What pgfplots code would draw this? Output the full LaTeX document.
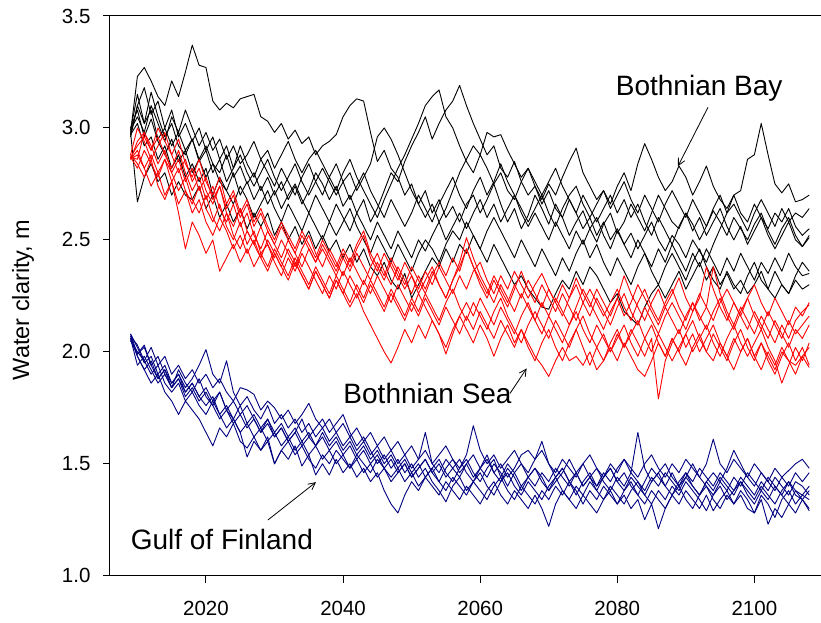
\documentclass[border=0pt]{standalone}
\usepackage{fontspec}
\setmainfont{Liberation Sans}
\usepackage{pgfplots}
\usepackage{pgfplotstable}
\pgfplotsset{compat=1.18}
\usetikzlibrary{arrows.meta}
\definecolor{navy}{RGB}{0,0,128}
\definecolor{pure red}{RGB}{255,0,0}

% Bothnian Bay: one row per ensemble member, 2009..2108
\pgfplotstableread[header=false]{
2.98 3.23 3.27 3.21 3.14 3.10 3.21 3.14 3.25 3.37 3.28 3.27 3.12 3.08 3.11 3.09 3.13 3.14 3.15 3.05 3.03 2.98 3.02 2.95 2.99 2.93 2.96 2.88 2.92 2.94 2.97 3.05 3.10 3.13 3.12 2.98 2.85 2.90 2.82 2.78 2.70 2.75 2.66 2.72 2.62 2.68 2.60 2.65 2.58 2.66 2.70 2.62 2.68 2.75 2.66 2.58 2.64 2.55 2.61 2.70 2.64 2.57 2.66 2.60 2.52 2.58 2.63 2.55 2.49 2.57 2.62 2.53 2.58 2.66 2.60 2.54 2.62 2.70 2.64 2.58 2.55 2.62 2.57 2.50 2.56 2.63 2.58 2.52 2.60 2.55 2.50 2.57 2.62 2.54 2.48 2.55 2.60 2.52 2.47 2.51
2.99 3.15 3.02 3.08 2.95 3.00 2.92 2.98 2.90 2.95 2.86 2.92 2.84 2.80 2.88 2.78 2.83 2.75 2.80 2.72 2.78 2.70 2.76 2.68 2.74 2.66 2.72 2.80 2.75 2.68 2.74 2.65 2.70 2.62 2.68 2.58 2.64 2.72 2.80 2.76 2.85 2.92 2.98 3.05 2.95 3.02 3.08 3.12 3.19 3.10 3.02 2.95 2.88 2.92 2.82 2.78 2.85 2.76 2.70 2.74 2.66 2.72 2.64 2.60 2.68 2.62 2.55 2.60 2.52 2.58 2.50 2.55 2.48 2.53 2.46 2.52 2.58 2.50 2.45 2.52 2.48 2.42 2.50 2.45 2.40 2.48 2.55 2.62 2.70 2.72 2.86 2.88 3.02 2.88 2.75 2.71 2.75 2.67 2.68 2.70
2.97 3.10 3.02 3.16 3.05 2.96 3.02 2.92 2.88 2.95 2.85 2.90 2.80 2.86 2.76 2.82 2.92 2.84 2.78 2.86 2.80 2.74 2.82 2.76 2.70 2.78 2.84 2.76 2.70 2.78 2.72 2.80 2.86 2.78 2.72 2.66 2.60 2.68 2.75 2.82 2.88 2.95 3.02 3.10 3.14 3.17 3.05 3.00 2.92 2.85 2.80 2.88 2.82 2.75 2.80 2.72 2.68 2.76 2.82 2.74 2.68 2.75 2.70 2.78 2.85 2.91 2.80 2.74 2.68 2.72 2.66 2.74 2.80 2.72 2.84 2.93 2.86 2.78 2.72 2.76 2.83 2.78 2.70 2.76 2.83 2.74 2.68 2.64 2.70 2.62 2.58 2.66 2.60 2.55 2.62 2.58 2.64 2.56 2.52 2.55
2.98 2.67 2.78 2.84 2.76 2.80 2.70 2.76 2.70 2.68 2.74 2.64 2.70 2.60 2.66 2.58 2.64 2.55 2.62 2.56 2.62 2.52 2.58 2.50 2.56 2.48 2.54 2.46 2.52 2.45 2.50 2.42 2.48 2.40 2.46 2.38 2.34 2.40 2.32 2.28 2.35 2.24 2.30 2.36 2.42 2.38 2.46 2.40 2.48 2.44 2.52 2.46 2.40 2.48 2.42 2.36 2.30 2.34 2.28 2.24 2.20 2.19 2.26 2.32 2.28 2.36 2.30 2.38 2.34 2.28 2.22 2.26 2.18 2.15 2.12 2.20 2.26 2.30 2.24 2.30 2.36 2.28 2.34 2.40 2.32 2.38 2.30 2.35 2.28 2.32 2.26 2.30 2.36 2.28 2.24 2.30 2.26 2.32 2.28 2.30
3.00 3.08 2.96 3.04 2.94 2.88 2.95 2.85 2.90 2.80 2.86 2.78 2.84 2.76 2.72 2.80 2.70 2.76 2.68 2.74 2.66 2.72 2.64 2.70 2.75 2.68 2.62 2.70 2.64 2.58 2.66 2.60 2.54 2.62 2.56 2.50 2.58 2.52 2.46 2.54 2.48 2.42 2.50 2.45 2.52 2.58 2.50 2.56 2.62 2.55 2.62 2.68 2.60 2.66 2.58 2.64 2.70 2.62 2.56 2.62 2.56 2.50 2.58 2.52 2.46 2.54 2.48 2.55 2.60 2.52 2.46 2.54 2.48 2.42 2.50 2.44 2.38 2.46 2.40 2.48 2.42 2.36 2.44 2.38 2.46 2.40 2.34 2.42 2.36 2.44 2.38 2.32 2.40 2.35 2.42 2.36 2.44 2.38 2.34 2.35
2.99 3.05 2.98 3.10 3.02 2.94 3.05 2.98 3.08 3.00 2.92 2.98 2.90 2.95 2.86 2.92 2.84 2.88 2.94 2.86 2.90 2.82 2.88 2.94 2.86 2.80 2.86 2.90 2.84 2.78 2.84 2.76 2.80 2.72 2.78 2.84 2.96 3.00 2.95 2.88 2.80 2.72 2.66 2.60 2.66 2.58 2.64 2.72 2.80 2.86 2.92 2.88 2.98 2.96 2.97 2.90 2.84 2.78 2.82 2.76 2.70 2.76 2.82 2.74 2.68 2.62 2.70 2.64 2.58 2.64 2.70 2.62 2.68 2.60 2.66 2.58 2.52 2.60 2.54 2.48 2.56 2.62 2.54 2.60 2.52 2.58 2.64 2.56 2.50 2.56 2.48 2.54 2.60 2.52 2.46 2.52 2.58 2.50 2.47 2.52
2.97 3.02 2.92 2.96 2.86 2.92 2.82 2.88 2.78 2.84 2.76 2.82 2.70 2.78 2.72 2.66 2.74 2.68 2.60 2.66 2.72 2.64 2.58 2.66 2.60 2.54 2.62 2.56 2.50 2.58 2.52 2.58 2.64 2.56 2.50 2.44 2.52 2.46 2.40 2.48 2.42 2.36 2.44 2.50 2.46 2.40 2.48 2.54 2.50 2.58 2.52 2.46 2.54 2.60 2.54 2.48 2.42 2.50 2.44 2.38 2.46 2.40 2.34 2.42 2.36 2.44 2.50 2.42 2.48 2.40 2.34 2.42 2.36 2.30 2.38 2.44 2.36 2.30 2.38 2.44 2.38 2.32 2.40 2.46 2.38 2.32 2.28 2.36 2.30 2.26 2.34 2.40 2.32 2.28 2.36 2.30 2.26 2.34 2.40 2.36
2.96 3.10 3.18 3.06 3.12 3.00 3.08 2.96 3.02 2.94 3.00 2.90 2.96 2.86 2.92 2.82 2.88 2.80 2.74 2.80 2.86 2.78 2.72 2.78 2.84 2.76 2.70 2.76 2.82 2.76 2.70 2.76 2.68 2.74 2.80 2.72 2.66 2.60 2.68 2.62 2.56 2.62 2.70 2.64 2.58 2.66 2.72 2.78 2.70 2.64 2.72 2.78 2.70 2.76 2.84 2.76 2.70 2.64 2.58 2.64 2.70 2.62 2.56 2.64 2.70 2.74 2.66 2.60 2.66 2.72 2.64 2.70 2.76 2.68 2.62 2.70 2.64 2.58 2.66 2.72 2.66 2.60 2.68 2.62 2.56 2.64 2.70 2.62 2.66 2.60 2.54 2.62 2.68 2.62 2.56 2.64 2.58 2.62 2.60 2.64
}\rawB
\pgfplotstabletranspose\tabB\rawB

% Bothnian Sea
\pgfplotstableread[header=false]{
2.87 2.92 2.96 2.90 3.00 2.94 2.88 2.95 2.84 2.78 2.86 2.76 2.70 2.78 2.66 2.72 2.62 2.68 2.58 2.64 2.56 2.50 2.58 2.52 2.46 2.54 2.48 2.42 2.50 2.44 2.38 2.46 2.40 2.48 2.54 2.44 2.38 2.32 2.40 2.34 2.28 2.34 2.26 2.32 2.38 2.30 2.24 2.32 2.40 2.51 2.42 2.34 2.28 2.22 2.30 2.24 2.18 2.26 2.20 2.14 2.22 2.16 2.24 2.18 2.12 2.20 2.28 2.22 2.16 2.10 2.18 2.24 2.16 2.22 2.30 2.24 2.18 2.12 2.20 2.14 2.08 2.16 2.22 2.14 2.20 2.38 2.26 2.18 2.12 2.20 2.14 2.08 2.16 2.10 2.04 2.12 2.06 2.14 2.18 2.21
2.86 2.88 2.82 2.74 2.80 2.70 2.76 2.66 2.72 2.62 2.68 2.58 2.52 2.60 2.54 2.46 2.52 2.44 2.50 2.42 2.36 2.44 2.38 2.32 2.40 2.34 2.28 2.36 2.30 2.24 2.32 2.26 2.20 2.26 2.18 2.12 2.06 2.00 1.95 2.02 2.10 2.04 2.12 2.06 2.14 2.08 2.02 2.10 2.16 2.10 2.04 2.12 2.06 1.98 2.06 2.12 2.04 2.10 2.02 1.96 2.04 2.10 2.02 1.96 2.04 2.10 2.02 1.94 2.02 2.08 2.00 2.06 2.12 2.04 1.98 2.06 2.12 2.04 1.98 2.06 2.00 2.08 2.14 2.06 2.00 2.08 2.02 1.96 2.04 2.10 2.02 1.96 2.04 1.98 1.92 2.00 1.96 1.94 1.98 2.02
2.88 2.84 2.78 2.86 2.74 2.68 2.76 2.62 2.46 2.58 2.52 2.44 2.50 2.36 2.42 2.48 2.40 2.46 2.38 2.44 2.48 2.40 2.34 2.42 2.36 2.44 2.38 2.32 2.26 2.34 2.28 2.36 2.30 2.24 2.32 2.26 2.34 2.28 2.22 2.30 2.24 2.18 2.26 2.20 2.14 2.08 1.99 2.08 2.16 2.22 2.16 2.24 2.18 2.12 2.20 2.14 2.08 2.16 2.22 2.14 2.08 2.16 2.10 2.04 2.12 2.18 2.10 2.04 2.12 2.06 2.00 2.08 2.02 2.10 2.04 1.98 2.06 1.79 1.96 2.04 2.10 2.02 2.08 2.00 2.06 2.12 2.04 1.98 2.06 2.00 2.06 1.98 2.04 1.96 1.90 1.98 2.04 1.96 2.02 1.94
2.87 2.86 2.98 2.92 2.84 2.90 2.80 2.86 2.76 2.82 2.72 2.78 2.68 2.74 2.64 2.70 2.60 2.66 2.56 2.62 2.54 2.48 2.56 2.50 2.44 2.52 2.46 2.40 2.48 2.42 2.36 2.44 2.38 2.46 2.52 2.42 2.36 2.44 2.38 2.32 2.40 2.34 2.28 2.36 2.30 2.38 2.32 2.26 2.34 2.28 2.36 2.40 2.32 2.26 2.34 2.28 2.36 2.30 2.24 2.30 2.35 2.28 2.22 2.30 2.24 2.33 2.26 2.20 2.28 2.22 2.16 2.24 2.34 2.26 2.20 2.14 2.22 2.28 2.20 2.26 2.33 2.24 2.18 2.26 2.20 2.14 2.22 2.28 2.22 2.16 2.24 2.30 2.22 2.16 2.24 2.18 2.12 2.20 2.16 2.22
2.86 2.90 2.82 2.88 2.80 2.86 2.76 2.82 2.72 2.66 2.74 2.64 2.58 2.66 2.56 2.50 2.58 2.48 2.54 2.44 2.38 2.46 2.40 2.34 2.42 2.36 2.30 2.38 2.32 2.26 2.34 2.28 2.22 2.30 2.24 2.32 2.26 2.20 2.28 2.22 2.16 2.24 2.18 2.26 2.20 2.14 2.22 2.28 2.20 2.14 2.22 2.16 2.10 2.18 2.24 2.16 2.10 2.04 2.12 2.18 2.12 2.06 2.14 2.08 2.02 2.10 2.16 2.08 2.02 1.96 2.04 2.10 2.02 2.08 2.14 2.06 2.00 2.08 2.02 1.96 2.02 2.08 2.00 2.06 2.12 2.04 1.98 2.06 2.12 2.04 1.98 2.04 2.10 2.02 1.96 1.86 1.94 2.02 1.96 2.04
2.88 3.00 2.94 2.86 2.92 2.98 2.88 2.80 2.86 2.76 2.82 2.72 2.66 2.74 2.62 2.56 2.64 2.54 2.48 2.56 2.48 2.42 2.50 2.44 2.38 2.46 2.52 2.44 2.38 2.46 2.40 2.34 2.42 2.36 2.30 2.38 2.44 2.36 2.30 2.38 2.32 2.26 2.34 2.28 2.36 2.30 2.24 2.32 2.38 2.46 2.38 2.30 2.24 2.32 2.26 2.20 2.28 2.36 2.28 2.22 2.30 2.24 2.18 2.26 2.20 2.14 2.22 2.28 2.22 2.16 2.22 2.28 2.20 2.14 2.22 2.28 2.20 2.14 2.22 2.28 2.20 2.14 2.22 2.16 2.10 2.18 2.24 2.16 2.10 2.18 2.24 2.16 2.10 2.18 2.12 2.06 2.14 2.08 2.12 2.16
2.87 2.82 2.90 2.84 2.78 2.86 2.80 2.72 2.78 2.68 2.62 2.70 2.60 2.54 2.62 2.52 2.46 2.54 2.48 2.42 2.50 2.44 2.38 2.46 2.40 2.34 2.28 2.36 2.30 2.24 2.32 2.26 2.34 2.28 2.22 2.30 2.24 2.18 2.26 2.20 2.14 2.22 2.16 2.24 2.18 2.12 2.20 2.14 2.08 2.16 2.10 2.18 2.12 2.06 2.14 2.08 2.02 2.10 2.04 1.98 1.94 1.89 1.96 2.02 1.96 1.98 1.94 2.00 1.92 1.96 2.02 1.96 2.04 1.98 1.92 1.89 1.96 2.04 1.98 2.06 2.00 1.94 2.02 2.08 2.00 1.96 2.04 1.98 1.92 2.00 2.06 1.98 1.92 2.00 1.94 2.02 1.96 1.90 1.98 1.93
2.86 2.94 2.98 2.90 2.96 2.88 2.82 2.90 2.80 2.72 2.78 2.68 2.74 2.64 2.58 2.66 2.56 2.62 2.52 2.46 2.54 2.48 2.42 2.50 2.44 2.38 2.46 2.40 2.46 2.40 2.34 2.42 2.36 2.44 2.38 2.32 2.40 2.34 2.42 2.36 2.30 2.38 2.32 2.26 2.34 2.40 2.34 2.42 2.36 2.46 2.38 2.32 2.26 2.34 2.28 2.22 2.30 2.24 2.32 2.26 2.20 2.28 2.22 2.16 2.24 2.30 2.22 2.16 2.24 2.18 2.12 2.20 2.26 2.18 2.12 2.20 2.14 2.08 2.16 2.22 2.16 2.10 2.18 2.24 2.38 2.28 2.20 2.14 2.22 2.16 2.10 2.18 2.12 2.06 2.14 2.08 2.02 2.10 2.06 2.12
}\rawS
\pgfplotstabletranspose\tabS\rawS

% Gulf of Finland
\pgfplotstableread[header=false]{
2.08 2.02 1.95 1.98 1.90 1.94 1.86 1.90 1.82 1.86 1.80 1.84 1.78 1.82 1.74 1.70 1.76 1.68 1.72 1.66 1.70 1.64 1.68 1.62 1.66 1.60 1.64 1.58 1.62 1.56 1.60 1.54 1.58 1.52 1.56 1.50 1.54 1.48 1.52 1.46 1.50 1.44 1.48 1.52 1.46 1.42 1.48 1.52 1.46 1.50 1.44 1.48 1.54 1.46 1.42 1.48 1.44 1.38 1.44 1.48 1.42 1.38 1.44 1.48 1.42 1.36 1.42 1.46 1.40 1.44 1.48 1.42 1.38 1.44 1.40 1.36 1.42 1.46 1.40 1.36 1.42 1.46 1.40 1.36 1.42 1.38 1.44 1.40 1.36 1.42 1.38 1.34 1.40 1.36 1.32 1.38 1.42 1.36 1.34 1.38
2.07 1.98 1.92 1.96 1.88 1.92 1.86 1.90 1.84 1.88 1.94 2.01 1.90 1.86 1.96 1.82 1.76 1.80 1.74 1.70 1.76 1.68 1.72 1.66 1.70 1.64 1.68 1.62 1.66 1.60 1.64 1.58 1.62 1.56 1.60 1.54 1.58 1.52 1.56 1.50 1.54 1.48 1.52 1.64 1.50 1.46 1.52 1.48 1.44 1.50 1.54 1.48 1.44 1.50 1.46 1.40 1.46 1.50 1.44 1.40 1.46 1.42 1.48 1.44 1.40 1.46 1.50 1.44 1.40 1.46 1.42 1.48 1.52 1.46 1.64 1.48 1.42 1.46 1.50 1.44 1.40 1.46 1.42 1.48 1.44 1.40 1.46 1.42 1.38 1.44 1.40 1.36 1.42 1.38 1.44 1.40 1.36 1.42 1.40 1.36
2.06 1.98 1.92 1.86 1.90 1.82 1.78 1.72 1.78 1.74 1.70 1.64 1.58 1.66 1.62 1.68 1.60 1.57 1.62 1.56 1.60 1.50 1.56 1.52 1.58 1.49 1.54 1.45 1.50 1.45 1.52 1.46 1.50 1.44 1.48 1.42 1.46 1.38 1.32 1.28 1.36 1.42 1.38 1.44 1.40 1.36 1.42 1.38 1.34 1.40 1.36 1.32 1.38 1.42 1.36 1.32 1.38 1.34 1.30 1.36 1.30 1.22 1.32 1.38 1.34 1.30 1.36 1.32 1.28 1.34 1.38 1.32 1.36 1.30 1.34 1.25 1.32 1.21 1.30 1.36 1.32 1.38 1.34 1.30 1.36 1.29 1.34 1.38 1.32 1.36 1.30 1.28 1.34 1.23 1.30 1.26 1.32 1.28 1.34 1.30
2.05 2.00 1.96 2.02 1.94 1.98 1.90 1.94 1.88 1.92 1.86 1.90 1.84 1.88 1.82 1.78 1.84 1.83 1.81 1.74 1.78 1.75 1.70 1.74 1.68 1.72 1.77 1.70 1.66 1.70 1.64 1.68 1.62 1.66 1.60 1.64 1.58 1.62 1.56 1.60 1.54 1.58 1.52 1.56 1.50 1.54 1.58 1.52 1.48 1.54 1.67 1.56 1.50 1.54 1.48 1.52 1.56 1.50 1.46 1.52 1.56 1.50 1.46 1.52 1.48 1.44 1.50 1.54 1.48 1.44 1.50 1.46 1.52 1.48 1.44 1.50 1.54 1.48 1.44 1.50 1.46 1.52 1.48 1.44 1.50 1.61 1.50 1.46 1.52 1.48 1.44 1.50 1.46 1.42 1.48 1.44 1.40 1.46 1.42 1.46
2.08 1.99 2.03 1.94 1.88 1.92 1.84 1.88 1.80 1.84 1.78 1.82 1.76 1.70 1.74 1.68 1.72 1.66 1.70 1.64 1.68 1.62 1.66 1.60 1.64 1.58 1.62 1.66 1.70 1.64 1.68 1.72 1.64 1.58 1.62 1.56 1.50 1.54 1.48 1.52 1.46 1.50 1.44 1.48 1.42 1.38 1.33 1.40 1.44 1.38 1.42 1.46 1.40 1.36 1.42 1.46 1.40 1.36 1.42 1.38 1.34 1.40 1.44 1.38 1.34 1.40 1.36 1.42 1.38 1.34 1.40 1.36 1.32 1.38 1.42 1.36 1.32 1.38 1.34 1.40 1.36 1.42 1.38 1.34 1.29 1.36 1.40 1.34 1.38 1.42 1.36 1.32 1.38 1.34 1.40 1.36 1.32 1.38 1.34 1.29
2.06 1.94 1.98 1.92 1.86 1.90 1.84 1.88 1.82 1.86 1.80 1.76 1.80 1.72 1.76 1.70 1.64 1.68 1.62 1.66 1.60 1.64 1.58 1.62 1.56 1.60 1.54 1.58 1.52 1.56 1.50 1.54 1.48 1.52 1.46 1.50 1.44 1.48 1.42 1.46 1.50 1.44 1.48 1.52 1.46 1.50 1.44 1.48 1.52 1.46 1.42 1.48 1.52 1.46 1.50 1.44 1.48 1.54 1.56 1.52 1.60 1.50 1.44 1.48 1.42 1.46 1.40 1.44 1.48 1.42 1.38 1.44 1.40 1.46 1.42 1.38 1.44 1.40 1.46 1.42 1.38 1.44 1.40 1.36 1.42 1.46 1.42 1.48 1.56 1.50 1.44 1.40 1.46 1.42 1.38 1.44 1.47 1.50 1.52 1.48
2.07 2.03 1.96 1.90 1.94 1.86 1.82 1.86 1.78 1.82 1.76 1.72 1.78 1.72 1.66 1.70 1.64 1.53 1.60 1.56 1.62 1.50 1.56 1.60 1.54 1.58 1.52 1.48 1.54 1.50 1.56 1.52 1.48 1.54 1.50 1.46 1.52 1.48 1.44 1.48 1.42 1.46 1.40 1.44 1.48 1.42 1.38 1.44 1.40 1.36 1.42 1.38 1.34 1.40 1.44 1.38 1.34 1.40 1.36 1.32 1.38 1.34 1.40 1.36 1.42 1.38 1.32 1.38 1.34 1.40 1.36 1.32 1.38 1.42 1.36 1.32 1.38 1.34 1.30 1.36 1.40 1.34 1.30 1.36 1.40 1.34 1.30 1.36 1.32 1.38 1.34 1.28 1.36 1.32 1.26 1.34 1.38 1.32 1.36 1.34
2.05 1.99 2.02 1.94 1.98 1.90 1.84 1.92 1.86 1.82 1.88 1.80 1.76 1.82 1.74 1.78 1.72 1.76 1.70 1.64 1.70 1.62 1.66 1.60 1.64 1.70 1.62 1.58 1.64 1.58 1.62 1.56 1.60 1.54 1.58 1.52 1.56 1.50 1.54 1.48 1.52 1.46 1.50 1.44 1.48 1.52 1.46 1.42 1.48 1.52 1.46 1.42 1.48 1.52 1.44 1.50 1.46 1.40 1.44 1.48 1.44 1.38 1.42 1.46 1.52 1.46 1.40 1.44 1.38 1.44 1.48 1.42 1.46 1.40 1.36 1.42 1.48 1.44 1.40 1.46 1.40 1.44 1.50 1.44 1.40 1.36 1.42 1.38 1.44 1.40 1.46 1.42 1.38 1.44 1.40 1.36 1.42 1.38 1.36 1.40
}\rawG
\pgfplotstabletranspose\tabG\rawG

\begin{document}
\begin{tikzpicture}
\begin{axis}[
  name=ax, scale only axis, width=711pt, height=559.7pt,
  xmin=2006, xmax=2109.72, ymin=1, ymax=3.5,
  axis lines*=left, axis line style={line width=1pt},
  xtick={2020,2040,2060,2080,2100}, ytick={1,1.5,2,2.5,3,3.5},
  minor tick num=0,
  tick align=outside, major tick length=7pt,
  tick style={line width=1pt, black},
  /pgf/number format/assume math mode=true,
  tick label style={font=\fontsize{20.5}{24}\selectfont},
  xticklabel style={/pgf/number format/1000 sep={}, yshift=-15pt},
  yticklabel style={/pgf/number format/fixed, /pgf/number format/fixed zerofill, /pgf/number format/precision=1, xshift=-9pt},
  clip=false,
  every axis plot/.append style={line width=0.9pt, line join=round},
]
\pgfplotsinvokeforeach{1,...,8}{\addplot[black] table[x expr=\coordindex+2009, y index=#1]{\tabB};}
\pgfplotsinvokeforeach{1,...,8}{\addplot[pure red] table[x expr=\coordindex+2009, y index=#1]{\tabS};}
\pgfplotsinvokeforeach{1,...,8}{\addplot[navy] table[x expr=\coordindex+2009, y index=#1]{\tabG};}

\node[anchor=base west, inner sep=0pt, font=\fontsize{28}{32}\selectfont] at (axis cs:2079.77,3.146) {Bothnian Bay};
\draw[line width=0.8pt, -{Straight Barb[length=7pt,width=7pt]}] (axis cs:2093.23,3.092) -- (axis cs:2088.85,2.829);
\node[anchor=base west, inner sep=0pt, font=\fontsize{28}{32}\selectfont] at (axis cs:2040.03,1.771) {Bothnian Sea};
\draw[line width=0.8pt, -{Straight Barb[length=7pt,width=7pt]}] (axis cs:2064.35,1.814) -- (axis cs:2066.78,1.926);
\node[anchor=base west, inner sep=0pt, font=\fontsize{28}{32}\selectfont] at (axis cs:2009.0,1.115) {Gulf of Finland};
\draw[line width=0.8pt, -{Straight Barb[length=7pt,width=7pt]}] (axis cs:2029.04,1.249) -- (axis cs:2036.05,1.418);
\end{axis}
\draw[line width=1pt] (ax.north west) -- (ax.north east);
\node[rotate=90, font=\fontsize{23.5}{26}\selectfont] at ([xshift=-87pt, yshift=-4pt]ax.west) {Water clarity, m};
\pgfresetboundingbox
\path[use as bounding box] ([shift={(-110pt,-46.3pt)}]ax.south west) rectangle ([shift={(0pt,16pt)}]ax.north east);
\end{tikzpicture}
\end{document}
